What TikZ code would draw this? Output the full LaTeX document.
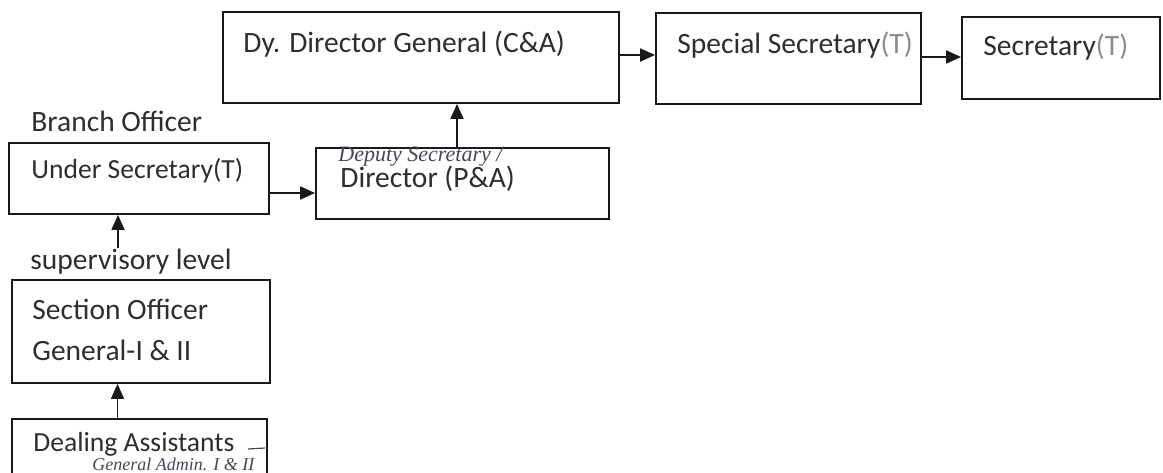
\documentclass[tikz,border=0pt]{standalone}
\usepackage{fontspec}
\setmainfont{Carlito}
\newfontfamily\handfont{Liberation Serif}
\usetikzlibrary{arrows.meta}
\definecolor{ink}{HTML}{2E2E2E}
\definecolor{pen}{HTML}{45475A}
\tikzset{box/.style 2 args={draw=black!90, line width=0.9pt, minimum width=#1, minimum height=#2, inner sep=0pt},
  txt/.style={anchor=base west, inner sep=0pt, text=ink, font=\fontsize{14.75}{17}\selectfont},
  smalltxt/.style={txt, font=\fontsize{13.8}{16}\selectfont},
  hand/.style={anchor=base west, inner sep=0pt, text=pen, font=\handfont\itshape\fontsize{11}{12}\selectfont},
  arr/.style={-{Triangle[length=7.5pt,width=6.5pt]}, line width=0.9pt, draw=black!90}}

\begin{document}
\begin{tikzpicture}[x=0.5pt,y=-0.5pt]
  \useasboundingbox (0,0) rectangle (1163,472);

  % boxes
  \node [box={198pt}{45.5pt}] (ddg) at (421,57.5) {};
  \node [box={132.5pt}{45.5pt}] (ss) at (788.5,58.5) {};
  \node [box={99pt}{41pt}] (sec) at (1061,58) {};
  \node [box={130pt}{35.5pt}] (us) at (139,178.5) {};
  \node [box={146.5pt}{35.5pt}] (dir) at (462.5,183.5) {};
  \node [box={129pt}{51.5pt}] (so) at (141,331.5) {};
  \node [box={127.5pt}{36pt}] (da) at (139.5,455) {};

  % texts
  \node [txt] (ddgtxt) at (243,52) {Dy. Director General (C\&A)};
  \node [txt] (sstxt) at (677,53) {Special Secretary\textcolor{black!45}{(T)}};
  \node [txt] (sectxt) at (983,55) {Secretary\textcolor{black!45}{(T)}};
  \node [txt] (bo) at (31,131) {Branch Officer};
  \node [smalltxt] (ustxt) at (31,178) {Under Secretary(T)};
  \node [hand] (deps) at (338,161) {Deputy Secretary /};
  \node [txt] (dirtxt) at (340,187) {Director (P\&A)};
  \node [txt] (sup) at (30,269) {supervisory level};
  \node [txt] (sotxt) at (32,319) {Section Officer};
  \node [txt] (gentxt) at (32,360) {General-I \& II};
  \node [smalltxt] (datxt) at (33,451) {Dealing Assistants};
  \node [hand, font=\handfont\itshape\fontsize{9}{10}\selectfont] (gadm) at (92,470) {General Admin. I \& II};
  \draw [pen, line width=0.6pt] (248,449) -- (265,448);

  % arrows
  \draw [arr] ([yshift=1.25pt]ddg.east) -- ([yshift=1.25pt]ddg.east -| ss.west);
  \draw [arr] ([yshift=0.75pt]ss.east) -- ([yshift=0.75pt]ss.east -| sec.west);
  \draw [arr] ([yshift=-7.25pt]us.east) -- ([yshift=-7.25pt]us.east -| dir.west);
  \draw [arr] ([xshift=-2.75pt]dir.north) -- ([xshift=-2.75pt]dir.north |- ddg.south);
  \draw [arr] ([xshift=-10.5pt]us.south |- sup.north) -- ([xshift=-10.5pt]us.south);
  \draw [arr] ([xshift=-11pt]da.north) -- ([xshift=-11pt]da.north |- so.south);
\end{tikzpicture}
\end{document}
